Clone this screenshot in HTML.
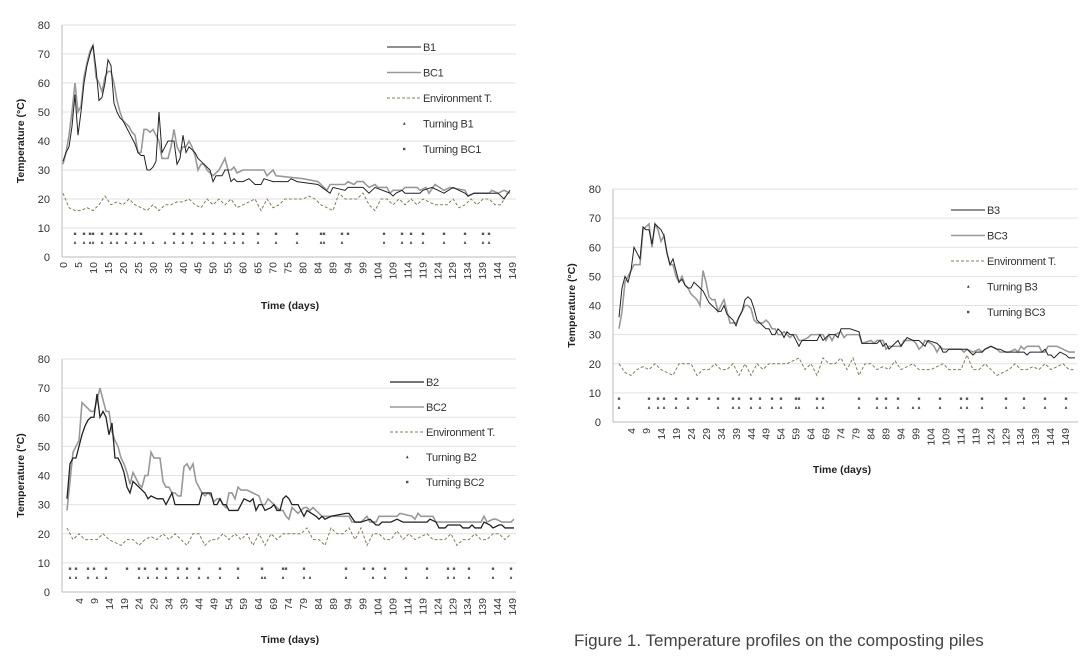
<!DOCTYPE html>
<html><head><meta charset="utf-8">
<style>
body{margin:0;background:#fff;width:1087px;height:662px;overflow:hidden;font-family:"Liberation Sans",Arial,sans-serif}
svg text{font-family:"Liberation Sans",Arial,sans-serif}
</style></head>
<body>
<svg id="fig" width="1087" height="662" viewBox="0 0 1087 662">
<text x="574" y="646" font-size="17" fill="#444">Figure 1. Temperature profiles on the composting piles</text>
</svg>
<script>
// ---------- Chart 1 data ----------
const c1Labels=["0","5","10","15","20","25","30","35","40","45","50","55","60","65","70","75","80","84","89","94","99","104","109","114","119","124","129","134","139","144","149"];
const b1Days=[0,1,2,3,4,5,6,7,8,9,10,11,12,13,14,15,16,17,18,19,20,21,22,23,24,25,26,27,28,29,30,31,32,33,34,35,36,37,38,39,40,41,42,43,44,45,46,47,48,49,50,51,52,53,54,55,56,57,58,60,62,64,66,67,70,75,76,78,85,89,90,94,95,100,102,104,109,110,111,113,114,119,120,123,127,130,134,135,137,141,143,145,147,149];
const b1Vals=[33,36,38,45,56,42,50,60,66,70,73,65,54,55,60,68,66,53,50,48,47,45,43,41,39,36,35,35,30,30,31,33,50,36,38,40,40,40,32,34,42,36,38,37,36,34,33,32,31,30,26,28,28,28,30,30,26,27,26,26,27,25,25,27,26,26,27,26,25,22,24,23,24,24,22,24,22,21,22,23,22,22,23,24,22,24,22,21,22,22,22,22,20,23];
const bc1Days=[0,1,2,3,4,5,6,7,8,9,10,11,12,13,14,15,16,17,18,19,20,21,22,23,24,25,26,27,28,29,30,31,32,33,34,35,36,37,38,39,40,41,42,43,44,45,46,47,48,49,50,52,54,55,56,57,58,60,67,68,70,71,80,85,88,89,94,95,97,98,100,102,104,105,108,109,110,113,114,118,119,121,122,124,127,129,134,135,137,142,143,145,147,149];
const bc1Vals=[32,36,42,50,60,50,52,62,67,71,73,62,60,57,62,64,64,60,54,50,47,46,45,43,42,36,36,44,44,43,44,42,40,34,34,34,38,44,38,36,38,38,40,38,35,30,32,32,30,29,28,30,34,30,30,31,29,30,30,28,30,28,27,26,23,25,25,26,25,26,26,24,25,24,24,22,23,23,24,24,23,24,22,25,23,24,23,21,22,22,23,22,23,22];
const env1Vals=[22,17,16,16,17,16,18,21,18,19,18,20,18,17,16,18,16,18,18,19,19,20,18,17,20,18,20,18,20,17,18,19,20,16,20,17,18,20,20,20,20,21,20,18,17,16,22,20,20,20,22,18,16,20,20,18,20,18,20,18,20,19,18,18,18,20,17,18,20,18,20,20,18,18,22];
const c1SqDays=[4,7,9,10,13,16,18,21,24,26,37,40,43,47,50,54,57,60,65,71,78,86,87,93,95,107,113,116,120,127,134,140,142];
const c1TriDays=[4,7,9,10,13,16,18,21,24,27,30,34,37,40,43,47,50,54,57,60,65,71,78,86,87,93,107,113,116,120,127,134,140,142];
// ---------- Chart 2 data ----------
const c2Labels=["4","9","14","19","24","29","34","39","44","49","54","59","64","69","74","79","84","89","94","99","104","109","114","119","124","129","134","139","144","149"];
const b2Days=[0,1,2,3,4,5,6,7,8,9,10,11,12,13,14,15,16,17,18,19,20,21,22,24,25,26,27,28,30,32,33,35,36,40,44,45,48,49,50,51,52,53,54,57,59,61,62,63,64,65,66,68,69,70,71,72,73,74,75,77,79,80,83,84,85,86,88,93,94,96,98,101,102,103,104,105,108,110,112,120,121,123,124,126,127,131,132,134,135,136,138,139,141,142,144,145,146,149];
const b2Vals=[32,44,46,46,50,54,57,59,60,60,68,60,62,60,54,58,46,46,44,41,36,34,38,36,35,34,32,33,32,32,30,34,30,30,30,34,34,30,30,32,30,30,28,28,32,31,32,28,30,30,28,29,30,28,28,32,33,32,30,30,26,28,26,25,26,25,26,27,27,24,24,25,24,23,23,24,24,25,24,24,25,24,22,22,23,23,22,22,23,22,22,24,23,22,23,23,22,22];
const bc2Days=[0,1,2,3,4,5,6,7,8,9,10,11,12,13,14,15,16,17,18,19,20,21,22,23,24,25,26,27,28,29,30,31,32,33,34,35,36,37,38,39,40,41,42,43,44,45,46,47,48,49,50,51,52,53,54,55,56,57,58,60,62,64,65,66,67,69,71,72,73,74,75,76,77,78,79,80,81,82,83,84,85,86,88,90,94,95,98,100,101,103,104,110,111,115,116,117,118,122,123,130,138,139,140,142,143,145,148,149];
const bc2Vals=[28,38,48,50,52,65,64,63,62,62,66,70,66,62,62,55,52,50,46,44,41,37,41,39,37,36,40,40,48,46,46,46,38,36,36,34,34,33,33,43,44,42,44,38,36,34,33,34,33,31,32,32,30,29,34,34,32,36,35,35,34,33,30,30,32,30,28,28,26,25,29,28,27,28,29,29,28,29,28,27,26,26,26,26,26,24,24,26,24,24,26,26,27,26,25,27,26,26,24,24,24,26,24,25,25,24,24,25];
const env2Vals=[22,18,20,18,18,18,20,18,17,16,18,18,16,18,19,18,20,18,20,18,16,20,20,16,18,18,20,18,20,18,20,16,20,16,20,18,20,20,20,20,22,18,18,16,22,20,20,22,18,22,16,20,20,18,18,21,18,20,18,19,20,18,18,18,20,16,18,18,20,18,18,20,20,18,20];
const c2SqDays=[1,3,7,9,13,20,24,26,30,33,37,40,44,51,57,65,72,73,79,93,99,102,106,113,120,127,129,134,142,148];
const c2TriDays=[1,3,7,10,13,24,27,30,33,37,40,44,47,51,57,65,66,72,79,81,93,102,106,113,120,127,129,134,142,148];
// ---------- Chart 3 data ----------
const c3Labels=["4","9","14","19","24","29","34","39","44","49","54","59","64","69","74","79","84","89","94","99","104","109","114","119","124","129","134","139","144","149"];
const b3Days=[0,1,2,3,4,5,6,7,8,9,10,11,12,13,14,15,16,17,18,19,20,21,22,23,24,25,26,27,28,29,30,31,32,33,34,35,36,37,38,39,40,41,42,43,44,45,46,47,48,49,50,51,52,53,54,55,56,57,58,59,60,61,66,67,68,70,72,73,74,77,80,81,86,87,88,89,90,91,93,94,96,98,100,101,102,103,106,107,108,109,110,116,117,118,119,121,122,124,126,127,129,135,136,137,140,141,142,143,144,145,146,147,149,150,152];
const b3Vals=[36,46,50,48,52,60,58,56,67,66,66,61,68,67,66,64,58,54,56,52,48,49,47,46,46,48,47,46,45,43,41,40,39,38,38,40,37,36,35,33,36,38,42,43,42,39,35,34,33,32,32,30,30,32,31,29,31,30,30,28,26,28,28,30,28,30,30,29,32,32,31,27,27,28,26,27,25,26,28,26,29,28,28,27,26,28,27,26,24,24,25,25,24,23,24,24,25,26,25,25,24,24,23,24,24,24,25,23,23,22,23,24,23,22,22];
const bc3Days=[0,1,2,3,4,5,6,7,8,9,10,11,12,13,14,15,16,17,18,19,20,21,22,23,24,25,26,27,28,29,30,31,32,33,34,35,36,37,38,39,40,41,42,43,44,45,46,47,48,49,50,51,52,53,54,55,56,57,58,59,60,61,63,64,68,69,70,71,72,74,75,76,80,81,84,85,86,88,89,90,93,94,95,98,99,100,101,102,104,105,106,107,108,114,115,116,118,120,121,122,124,126,127,130,132,133,134,135,136,140,141,142,143,146,148,150,152];
const bc3Vals=[32,38,48,50,52,54,54,54,66,67,68,60,68,66,62,64,58,54,54,50,48,50,47,46,44,43,42,40,52,48,43,42,42,38,40,42,38,34,34,34,36,38,40,40,39,35,34,34,34,35,34,32,32,30,30,31,30,29,30,30,28,28,29,30,30,28,30,28,30,31,29,30,30,27,28,27,28,28,25,26,26,26,28,28,27,25,26,28,27,26,24,26,25,25,24,25,24,25,24,25,26,25,24,24,25,24,26,25,26,26,24,24,26,26,25,24,24];
const env3Vals=[20,17,16,18,19,18,20,18,17,16,20,20,20,16,18,18,20,18,18,20,16,20,16,20,18,20,20,20,20,21,22,18,20,16,22,20,20,22,18,22,16,20,20,18,19,18,21,18,19,20,18,18,18,19,20,18,18,18,23,18,18,20,18,16,17,18,20,18,18,19,18,20,18,19,20,18,18];
const c3SqDays=[0,10,13,15,19,23,26,30,33,38,40,44,47,51,54,59,60,66,68,80,86,89,93,100,107,114,116,121,129,135,142,149];
const c3TriDays=[0,10,13,15,19,23,33,38,40,44,47,51,54,59,60,66,68,80,86,89,93,98,100,107,114,116,121,129,135,142,149];

const NS="http://www.w3.org/2000/svg";
const svg=document.getElementById('fig');
function mk(tag,attrs,parent){const e=document.createElementNS(NS,tag);for(const k in attrs)e.setAttribute(k,attrs[k]);(parent||svg).appendChild(e);return e;}

function drawChart(c){
  const g=mk('g',{});
  
  
  const yS=v=>c.y0+(c.y80-c.y0)*v/80;
  const xS=d=>c.x0+3*d;
  for(let v=0;v<=80;v+=10){
    const gl=mk('line',{x1:c.left,x2:c.right,y1:yS(v),y2:yS(v),stroke:v===0?'#bbb':'#e2e2e2','stroke-width':1},g);
    
    
    const t=mk('text',{x:c.left-12,y:yS(v)+4,'font-size':11,'text-anchor':'end',fill:'#333'},g);
    t.textContent=v;
    
    
  }
  const ax=mk('line',{x1:c.left,x2:c.left,y1:yS(0),y2:yS(80),stroke:'#bbb'},g);
  
  
  c.labels.forEach((lab,i)=>{
    const x=c.lab0+i*c.labStep;
    const t=mk('text',{x:0,y:0,'font-size':10.5,'text-anchor':'end',fill:'#333',transform:`translate(${x+4},${c.labTop}) rotate(-90)`},g);
    t.textContent=lab;
    
    
  });
  const yt=mk('text',{x:0,y:0,'font-size':10.5,'font-weight':'bold','text-anchor':'middle',fill:'#222',transform:`translate(${c.ytx},${(yS(0)+yS(80))/2}) rotate(-90)`},g);
  yt.textContent='Temperature (°C)';
  
  
  const xt=mk('text',{x:c.xtx,y:c.xty,'font-size':10.5,'font-weight':'bold','text-anchor':'middle',fill:'#222'},g);
  xt.textContent='Time (days)';
  
  
  const envPts=c.env.map((v,i)=>xS(i*2)+','+yS(v)).join(' ');
  const pe=mk('polyline',{points:envPts,fill:'none',stroke:'#8a7b52','stroke-width':1,'stroke-dasharray':'3,2'},g);
  
  
  const pbc=mk('polyline',{points:c.bcDays.map((d,i)=>xS(d)+','+yS(c.bcVals[i])).join(' '),fill:'none',stroke:'#999','stroke-width':1.6},g);
  
  
  const pb=mk('polyline',{points:c.bDays.map((d,i)=>xS(d)+','+yS(c.bVals[i])).join(' '),fill:'none',stroke:'#222','stroke-width':c.bw},g);
  
  
  c.sq.forEach(d=>{
    const r=mk('rect',{x:xS(d)-1.2,y:yS(8)-1.2,width:2.4,height:2.4,fill:'#555'},g);
    
    
  });
  c.tri.forEach(d=>{
    const x=xS(d),y=yS(5);
    const p=mk('polygon',{points:`${x-1.3},${y+1.3} ${x+1.3},${y+1.3} ${x},${y-1.5}`,fill:'#333'},g);
    
    
  });
  const L=c.leg;
  const items=[['line','#222',c.bw,''],['line','#999',1.6,''],['line','#8a7b52',1,'3,2'],['tri'],['sq']];
  items.forEach((it,i)=>{
    const y=L.y+i*L.dy;
    if(it[0]==='line'){
      const l=mk('line',{x1:L.x,x2:L.x+34,y1:y,y2:y,stroke:it[1],'stroke-width':it[2],'stroke-dasharray':it[3]||'none'},g);
      
      
    }else if(it[0]==='tri'){
      const p=mk('polygon',{points:`${L.x+16},${y+1.3} ${L.x+18.6},${y+1.3} ${L.x+17.3},${y-1.5}`,fill:'#333'},g);
      
      
    }else{
      const r=mk('rect',{x:L.x+16,y:y-1.2,width:2.4,height:2.4,fill:'#555'},g);
      
      
    }
    const t=mk('text',{x:L.x+36,y:y+4,'font-size':11,fill:'#333','letter-spacing':'-0.3'},g);
    t.textContent=c.names[i];
    
    
  });
}

drawChart({name:'chart-pile-1',left:62,right:516,y0:257,y80:25,x0:63,labels:c1Labels,lab0:63,labStep:14.97,labTop:262,ytx:24,xtx:290,xty:309,
  bDays:b1Days,bVals:b1Vals,bcDays:bc1Days,bcVals:bc1Vals,env:env1Vals,sq:c1SqDays,tri:c1TriDays,bw:1,
  leg:{x:387,y:47,dy:25.5},names:['B1','BC1','Environment T.','Turning B1','Turning BC1']});
drawChart({name:'chart-pile-2',left:62,right:516,y0:592,y80:359,x0:67,labels:c2Labels,lab0:79,labStep:14.93,labTop:598,ytx:24,xtx:290,xty:643,
  bDays:b2Days,bVals:b2Vals,bcDays:bc2Days,bcVals:bc2Vals,env:env2Vals,sq:c2SqDays,tri:c2TriDays,bw:1.3,
  leg:{x:390,y:382,dy:25},names:['B2','BC2','Environment T.','Turning B2','Turning BC2']});
drawChart({name:'chart-pile-3',left:613,right:1078,y0:422,y80:189,x0:619,labels:c3Labels,lab0:631,labStep:14.97,labTop:428,ytx:575,xtx:842,xty:473,
  bDays:b3Days,bVals:b3Vals,bcDays:bc3Days,bcVals:bc3Vals,env:env3Vals,sq:c3SqDays,tri:c3TriDays,bw:1,
  leg:{x:951,y:210,dy:25.5},names:['B3','BC3','Environment T.','Turning B3','Turning BC3']});
</script>
</body></html>
